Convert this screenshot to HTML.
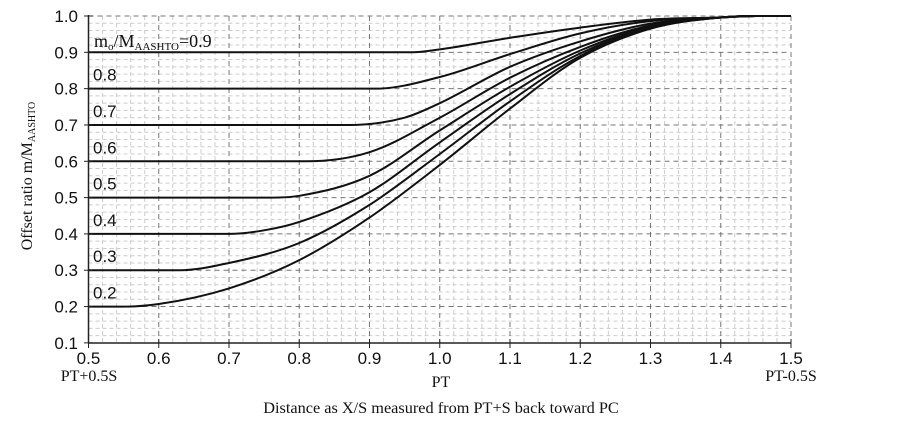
<!DOCTYPE html>
<html><head><meta charset="utf-8"><style>
body{margin:0;background:#fff;}
svg text{font-family:"Liberation Serif",serif;fill:#111;}
svg .sn{font-family:"Liberation Sans",sans-serif;}
</style></head><body>
<svg id="s" width="903" height="425" xmlns="http://www.w3.org/2000/svg">
<g id="grid"></g>
<g id="curves" fill="none" stroke="#111" stroke-width="2"></g>
<line x1="88.5" y1="15" x2="88.5" y2="343" stroke="#222" stroke-width="1.5"/>
<line x1="88" y1="343" x2="791" y2="343" stroke="#222" stroke-width="1.5"/>
<g id="labels" font-size="17"></g>
<text x="94" y="47" font-size="18">m<tspan font-size="11" dy="3">o</tspan><tspan dy="-3">/M</tspan><tspan font-size="11" dy="3">AASHTO</tspan><tspan dy="-3">=0.9</tspan></text>
<text font-size="16" transform="translate(32,176) rotate(-90)" text-anchor="middle">Offset ratio m/M<tspan font-size="10" dy="3">AASHTO</tspan></text>
<text x="89" y="381" font-size="16" text-anchor="middle">PT+0.5S</text>
<text x="441" y="387" font-size="16" text-anchor="middle">PT</text>
<text x="791" y="381" font-size="16" text-anchor="middle">PT-0.5S</text>
<text x="441" y="413" font-size="16.3" text-anchor="middle">Distance as X/S measured from PT+S back toward PC</text>
</svg>
<script>
var NS="http://www.w3.org/2000/svg";
function X(v){return 88.5+(v-0.5)*702.5;}
function Y(v){return 16+(1-v)*363.2;}
function el(p,t,a,txt){var e=document.createElementNS(NS,t);for(var k in a)e.setAttribute(k,a[k]);if(txt)e.textContent=txt;p.appendChild(e);return e;}
var g=document.getElementById('grid');
for(var i=1;i<50;i++){if(i%5==0)continue;var x=X(0.5+i*0.02);el(g,'line',{x1:x,y1:Y(1),x2:x,y2:Y(0.1),stroke:'#ccc','stroke-width':1,'stroke-dasharray':'4,3'});}
for(var i=1;i<45;i++){if(i%5==0)continue;var y=Y(0.1+i*0.02);el(g,'line',{x1:X(0.5),y1:y,x2:X(1.5),y2:y,stroke:'#ccc','stroke-width':1,'stroke-dasharray':'4,3'});}
for(var i=1;i<=10;i++){var x=X(0.5+i*0.1);el(g,'line',{x1:x,y1:Y(1),x2:x,y2:Y(0.1),stroke:'#777','stroke-width':1,'stroke-dasharray':'5,4'});}
for(var i=1;i<=9;i++){var y=Y(0.1+i*0.1);el(g,'line',{x1:X(0.5),y1:y,x2:X(1.5),y2:y,stroke:'#777','stroke-width':1,'stroke-dasharray':'5,4'});}
var L=document.getElementById('labels');
for(var i=0;i<=9;i++){var v=0.1+i*0.1;el(L,'text',{x:78,y:Y(v)+6,'text-anchor':'end','class':'sn'},v.toFixed(1));el(L,'line',{x1:84,y1:Y(v),x2:93,y2:Y(v),stroke:'#222'});}
for(var i=0;i<=10;i++){var v=0.5+i*0.1;el(L,'text',{x:X(v),y:364,'text-anchor':'middle','class':'sn'},v.toFixed(1));el(L,'line',{x1:X(v),y1:339,x2:X(v),y2:348,stroke:'#222'});}
var tail=[[1.4,0.996],[1.45,1],[1.5,1]];
var data={
0.2:[[.5,.2],[.55,.2],[.6,.207],[.7,.25],[.8,.328],[.9,.445],[1.0,.59],[1.1,.745],[1.2,.885],[1.3,.965]],
0.3:[[.5,.3],[.63,.3],[.7,.32],[.8,.375],[.9,.48],[1.0,.62],[1.1,.765],[1.2,.89],[1.3,.967]],
0.4:[[.5,.4],[.70,.4],[.75,.41],[.8,.433],[.9,.515],[1.0,.652],[1.1,.785],[1.2,.897],[1.3,.969]],
0.5:[[.5,.5],[.76,.5],[.8,.505],[.9,.56],[1.0,.685],[1.1,.805],[1.2,.905],[1.3,.971]],
0.6:[[.5,.6],[.81,.6],[.9,.625],[1.0,.72],[1.1,.83],[1.2,.915],[1.3,.974]],
0.7:[[.5,.7],[.87,.7],[.95,.72],[1.0,.76],[1.1,.86],[1.2,.93],[1.3,.979]],
0.8:[[.5,.8],[.91,.8],[1.0,.832],[1.1,.895],[1.2,.952],[1.3,.986]],
0.9:[[.5,.9],[.96,.9],[1.0,.908],[1.1,.94],[1.2,.968],[1.3,.99]]};
function mono(pts){var n=pts.length,d=[],m=[];for(var i=0;i<n-1;i++)d.push((pts[i+1][1]-pts[i][1])/(pts[i+1][0]-pts[i][0]));
m[0]=d[0];m[n-1]=d[n-2];for(var i=1;i<n-1;i++){m[i]=(d[i-1]*d[i]<=0)?0:(d[i-1]+d[i])/2;}
for(var i=0;i<n-1;i++){if(d[i]==0){m[i]=0;m[i+1]=0;}else{var a=m[i]/d[i],b=m[i+1]/d[i],s=a*a+b*b;if(s>9){var t=3/Math.sqrt(s);m[i]=t*a*d[i];m[i+1]=t*b*d[i];}}}
var p="M"+X(pts[0][0]).toFixed(1)+","+Y(pts[0][1]).toFixed(1);
for(var i=0;i<n-1;i++){var h=(pts[i+1][0]-pts[i][0])/3;
p+=" C"+X(pts[i][0]+h).toFixed(1)+","+Y(pts[i][1]+m[i]*h).toFixed(1)+" "+X(pts[i+1][0]-h).toFixed(1)+","+Y(pts[i+1][1]-m[i+1]*h).toFixed(1)+" "+X(pts[i+1][0]).toFixed(1)+","+Y(pts[i+1][1]).toFixed(1);}
return p;}
var C=document.getElementById('curves');
for(var k in data){var m=parseFloat(k);el(C,'path',{d:mono(data[k].concat(tail))});
if(m<0.9)el(L,'text',{x:93,y:Y(m)-8,'class':'sn'},m.toFixed(1));}
</script>
</body></html>
